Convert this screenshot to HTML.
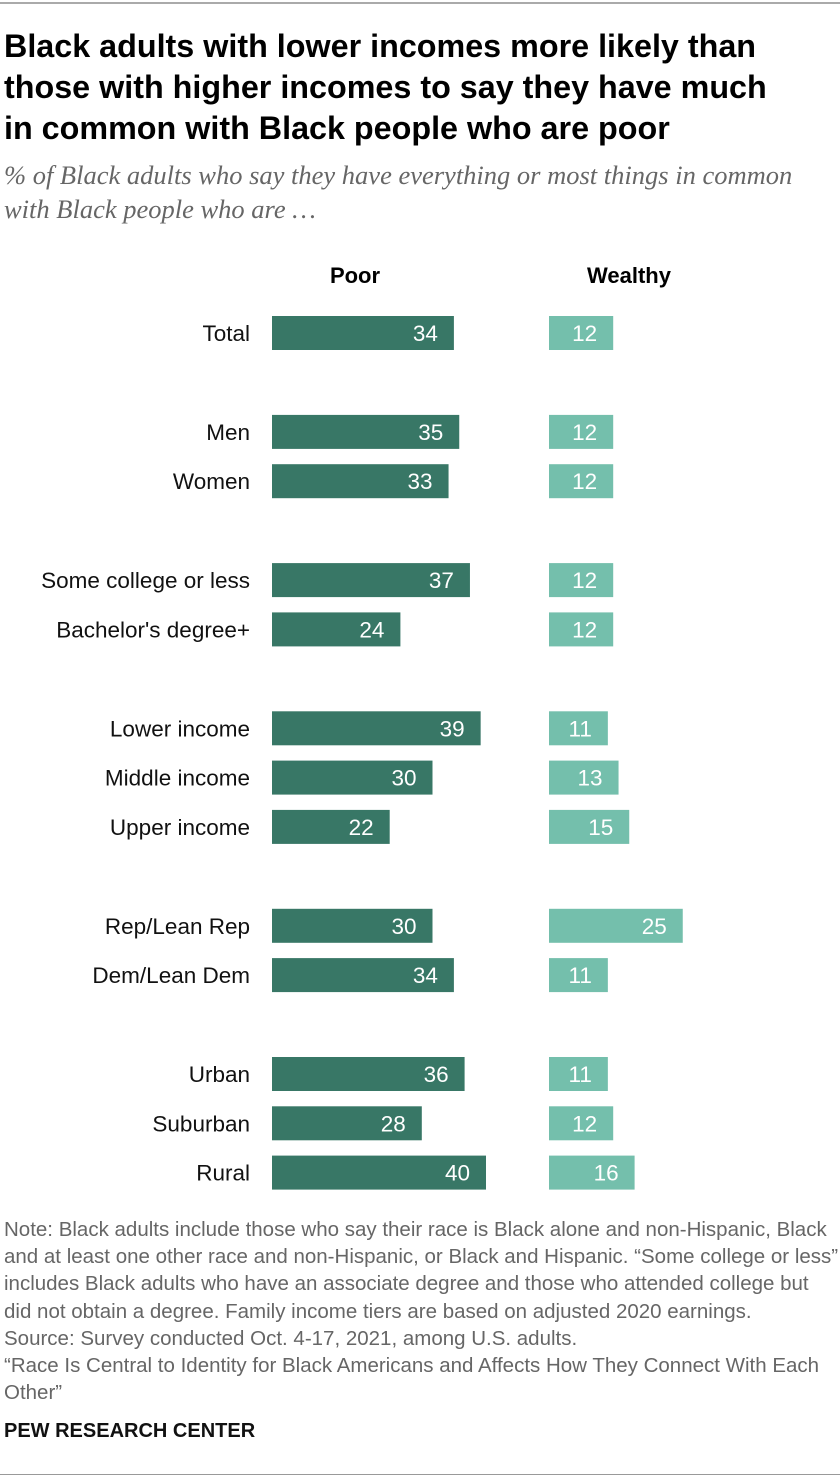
<!DOCTYPE html>
<html><head><meta charset="utf-8"><style>
body{margin:0;width:840px;height:1478px;background:#fff;position:relative;font-family:"Liberation Sans",sans-serif;overflow:hidden}
.t{position:absolute;left:4px;top:26px;font-size:32.3px;font-weight:bold;line-height:41px;color:#000;white-space:nowrap}
.s{position:absolute;left:4px;top:158px;font-family:"Liberation Serif",serif;font-style:italic;font-size:26.5px;line-height:34px;color:#666;white-space:nowrap}
.n{position:absolute;left:4px;top:1216px;font-size:20.5px;line-height:27.2px;color:#666;white-space:nowrap}
.p{position:absolute;left:4px;top:1420px;font-size:20px;font-weight:bold;color:#111}
</style></head><body>
<div style="position:absolute;left:0;top:2px;width:840px;height:2px;background:#aaa"></div>
<div class="t">Black adults with lower incomes more likely than<br>those with higher incomes to say they have much<br>in common with Black people who are poor</div>
<div class="s">% of Black adults who say they have everything or most things in common<br>with Black people who are …</div>
<svg id="chart" width="840" height="1478" style="position:absolute;left:0;top:0"></svg>
<div class="n">Note: Black adults include those who say their race is Black alone and non-Hispanic, Black<br>and at least one other race and non-Hispanic, or Black and Hispanic. “Some college or less”<br>includes Black adults who have an associate degree and those who attended college but<br>did not obtain a degree. Family income tiers are based on adjusted 2020 earnings.<br>Source: Survey conducted Oct. 4-17, 2021, among U.S. adults.<br>“Race Is Central to Identity for Black Americans and Affects How They Connect With Each<br>Other”</div>
<div class="p">PEW RESEARCH CENTER</div>
<div style="position:absolute;left:0;top:1474px;width:840px;height:1px;background:#999"></div>
<script>
const categories=["Total","Men","Women","Some college or less","Bachelor's degree+","Lower income","Middle income","Upper income","Rep/Lean Rep","Dem/Lean Dem","Urban","Suburban","Rural"];
const groups=[0,1,1,2,2,3,3,3,4,4,5,5,5];
const poor=[34,35,33,37,24,39,30,22,30,34,36,28,40];
const wealthy=[12,12,12,12,12,11,13,15,25,11,11,12,16];
const seriesNames=["Poor","Wealthy"];
const svg=document.getElementById('chart');
const NS='http://www.w3.org/2000/svg';
const k=5.35;
const x0P=272,x0W=549;
function yRow(i){return 333+i*49.3+groups[i]*49.6;}
function mk(t,a){const e=document.createElementNS(NS,t);for(const q in a)e.setAttribute(q,a[q]);svg.appendChild(e);return e;}
const hp=mk('text',{x:355,y:283,'text-anchor':'middle','font-size':22,'font-weight':'bold','font-family':'Liberation Sans'});hp.textContent=seriesNames[0];


const hw=mk('text',{x:629,y:283,'text-anchor':'middle','font-size':22,'font-weight':'bold','font-family':'Liberation Sans'});hw.textContent=seriesNames[1];


categories.forEach((c,i)=>{
 const y=yRow(i);
 const l=mk('text',{x:250,y:y+8,'text-anchor':'end','font-size':22.5,fill:'#111','font-family':'Liberation Sans'});l.textContent=c;
 
 
 const b=mk('rect',{x:x0P,y:y-17,width:poor[i]*k,height:34,fill:'#387766'});
 
 
 const v=mk('text',{x:x0P+poor[i]*k-16,y:y+8,'text-anchor':'end','font-size':22.5,fill:'#fff','font-family':'Liberation Sans'});v.textContent=poor[i];
 
 
 const b2=mk('rect',{x:x0W,y:y-17,width:wealthy[i]*k,height:34,fill:'#74bfac'});
 
 
 const v2=mk('text',{x:x0W+wealthy[i]*k-16,y:y+8,'text-anchor':'end','font-size':22.5,fill:'#fff','font-family':'Liberation Sans'});v2.textContent=wealthy[i];
 
 
});
</script>
</body></html>
